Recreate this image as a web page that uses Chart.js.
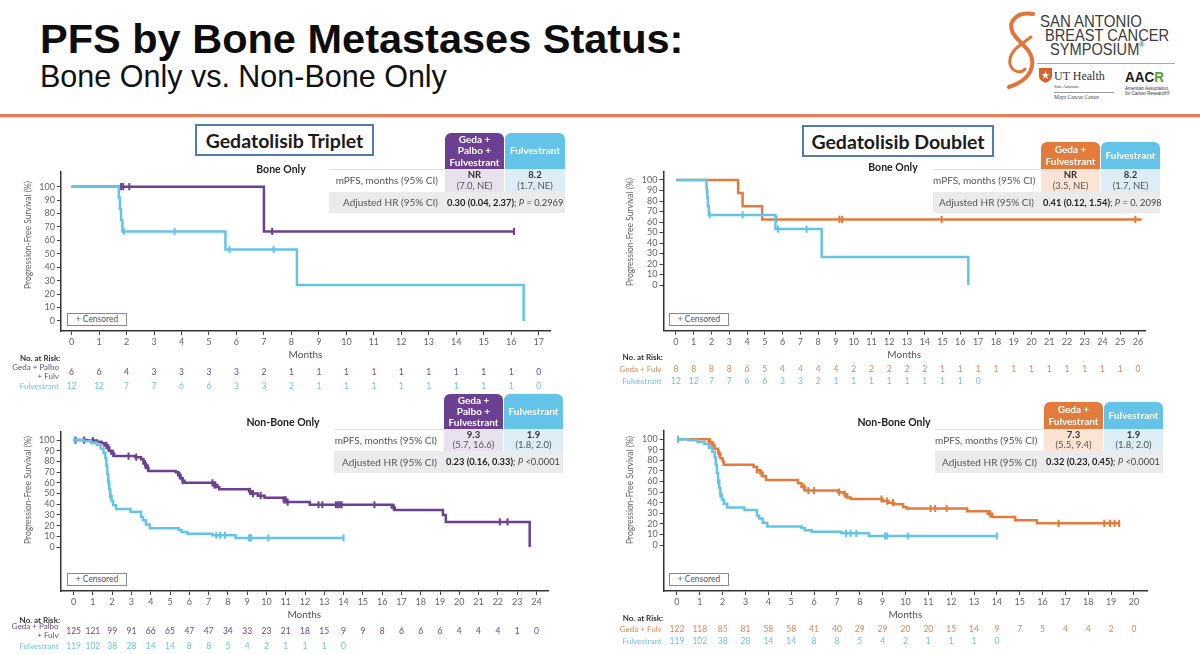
<!DOCTYPE html>
<html>
<head>
<meta charset="utf-8">
<title>PFS by Bone Metastases Status</title>
<script src="https://cdn.jsdelivr.net/npm/chart.js@4.4.1/dist/chart.umd.min.js"></script>
<style>
html,body{margin:0;padding:0;background:#fff;}
body{position:relative;width:1200px;height:654px;overflow:hidden;font-family:Lato,"Open Sans",sans-serif;}
.abs{position:absolute;}
#title{left:40px;top:18px;font:bold 41.5px/41px "Liberation Sans",Arial,sans-serif;color:#0d0d0d;white-space:nowrap;}
#subtitle{left:40px;top:61px;font:30.5px/30px "Liberation Sans",Arial,sans-serif;color:#111;white-space:nowrap;}
#rule{left:0;top:114px;width:1200px;height:3px;background:#e07f5c;box-shadow:0 1px 1px rgba(224,127,92,.35);}
.tbox{position:absolute;box-sizing:border-box;border:2.5px solid #4f7db1;background:#fff;display:flex;align-items:center;justify-content:center;font:bold 19.5px Lato,sans-serif;color:#1b1b1b;z-index:5;}
.sub{position:absolute;width:120px;text-align:center;font:bold 10.5px/14px Lato,sans-serif;color:#222;z-index:5;}
.hdr{position:absolute;box-sizing:border-box;display:flex;align-items:center;justify-content:center;text-align:center;color:#fff;font:bold 10px/11.3px Lato,sans-serif;border-radius:6px 6px 0 0;z-index:5;}
.lab{position:absolute;box-sizing:border-box;text-align:right;padding-right:7px;font:10px Lato,sans-serif;color:#555;white-space:nowrap;z-index:5;}
.val{position:absolute;box-sizing:border-box;display:flex;flex-direction:column;align-items:center;justify-content:center;font:9.5px/10.5px Lato,sans-serif;color:#555;z-index:5;}
.val b{color:#333;}
.r2{position:absolute;background:#ebebeb;z-index:4;}
.r1{position:absolute;background:#fff;border-top:1px solid #e2e2e2;box-sizing:border-box;z-index:4;}
.hr{position:absolute;font:9.3px Lato,sans-serif;color:#444;white-space:nowrap;z-index:5;}
.hr b{color:#222;}
.cens{position:absolute;box-sizing:border-box;border:1px solid #8a8a8a;background:#fff;font:8.5px/11px Lato,sans-serif;color:#555;text-align:center;z-index:5;}
.logo{position:absolute;font-family:"Liberation Sans",Arial,sans-serif;color:#3a3a3a;white-space:nowrap;transform-origin:0 0;}
canvas{position:absolute;}
</style>
</head>
<body>
<div id="title" class="abs">PFS by Bone Metastases Status:</div>
<div id="subtitle" class="abs">Bone Only vs. Non-Bone Only</div>
<div id="rule" class="abs"></div>

<!-- SABCS logo -->
<svg class="abs" style="left:1000px;top:10px" width="42" height="82" viewBox="0 0 42 82">
  <path d="M33,4 C18,1 7,11 13,23 C19,34 35,40 32,56 C30,68 18,74 9,77" fill="none" stroke="#e2733a" stroke-width="4" stroke-linecap="round"/>
  <path d="M31,27 C20,35 8,42 10,54 C12,62 21,64 25,59" fill="none" stroke="#e2733a" stroke-width="3" stroke-linecap="round"/>
</svg>
<div class="logo" style="left:1040px;top:12px;font-size:17px;transform:scaleX(0.88)">SAN ANTONIO</div>
<div class="logo" style="left:1045px;top:26px;font-size:17px;transform:scaleX(0.86)">BREAST CANCER</div>
<div class="logo" style="left:1050px;top:40px;font-size:17px;transform:scaleX(0.86)">SYMPOSIUM<span style="font-size:8px;vertical-align:top">®</span></div>
<div class="abs" style="left:1037px;top:63px;width:138px;height:1px;background:#aaa"></div>
<svg class="abs" style="left:1039px;top:68px" width="13" height="15" viewBox="0 0 13 15">
  <path d="M0,0 H13 V8 C13,12 8,14 6.5,15 C5,14 0,12 0,8 Z" fill="#d4622a"/>
  <path d="M6.5,3 L7.5,6 L10.5,6 L8,7.8 L9,11 L6.5,9 L4,11 L5,7.8 L2.5,6 L5.5,6 Z" fill="#fff"/>
</svg>
<div class="logo" style="left:1054px;top:69px;font:12px 'Liberation Serif',serif;color:#333">UT Health</div>
<div class="logo" style="left:1054px;top:84px;font:5px 'Liberation Serif',serif;color:#444">San Antonio</div>
<div class="abs" style="left:1054px;top:92px;width:60px;height:1px;background:#999"></div>
<div class="logo" style="left:1054px;top:94px;font:5.5px 'Liberation Serif',serif;color:#444">Mays Cancer Center</div>
<div class="logo" style="left:1125px;top:68px;font:bold 15px 'Liberation Sans',sans-serif;color:#1d1d1d;transform:scaleX(0.9)">AAC<span style="color:#55a02f">R</span></div>
<div class="logo" style="left:1125px;top:86px;font:4.5px/5px 'Liberation Sans',sans-serif;color:#333">American Association<br>for Cancer Research®</div>

<!-- panel title boxes -->
<div class="tbox" style="left:195px;top:124px;width:179px;height:32px">Gedatolisib Triplet</div>
<div class="tbox" style="left:802px;top:125px;width:192px;height:32px">Gedatolisib Doublet</div>

<!-- subplot subtitles -->
<div class="sub" style="left:221px;top:162px">Bone Only</div>
<div class="sub" style="left:833px;top:160px">Bone Only</div>
<div class="sub" style="left:223px;top:415px">Non-Bone Only</div>
<div class="sub" style="left:834px;top:415px">Non-Bone Only</div>

<!-- censored legends -->
<div class="cens" style="left:67px;top:313px;width:60px;height:13px">+ Censored</div>
<div class="cens" style="left:669px;top:313px;width:60px;height:13px">+ Censored</div>
<div class="cens" style="left:67px;top:573px;width:60px;height:13px">+ Censored</div>
<div class="cens" style="left:669px;top:573px;width:60px;height:13px">+ Censored</div>

<script>
// ---------------- DATA ----------------
const yTicks = [0, 10, 20, 30, 40, 50, 60, 70, 80, 90, 100];
const monthsTripletBone = [0,1,2,3,4,5,6,7,8,9,10,11,12,13,14,15,16,17];
const monthsDoubletBone = [0,1,2,3,4,5,6,7,8,9,10,11,12,13,14,15,16,17,18,19,20,21,22,23,24,25,26];
const monthsTripletNonBone = [0,1,2,3,4,5,6,7,8,9,10,11,12,13,14,15,16,17,18,19,20,21,22,23,24];
const monthsDoubletNonBone = [0,1,2,3,4,5,6,7,8,9,10,11,12,13,14,15,16,17,18,19,20];

// Kaplan-Meier curves: [month, PFS %] (value after each event)
const fulvBone = [[0,100],[1.72,91.7],[1.76,83.3],[1.8,75],[1.85,66.7],[5.6,53.3],[8.2,26.7],[16.45,26.7],[16.45,0]];
const fulvBoneCens = [1.9, 3.75, 5.75, 7.35];
const tripletBoneGeda = [[0,100],[7.0,66.7],[16.1,66.7]];
const tripletBoneGedaCens = [1.8, 1.88, 2.1, 7.3, 16.1];
const doubletBoneGeda = [[0,100],[3.5,87.5],[3.75,75],[4.85,62.5],[26.2,62.5]];
const doubletBoneGedaCens = [5.65, 9.2, 9.35, 14.95, 25.85];

const fulvNonBone = [[0,100],[0.5,99],[0.9,97.5],[1.2,95.5],[1.4,92],[1.55,88],[1.65,83],[1.7,76],[1.75,68],[1.8,61],[1.85,54],[1.9,48],[1.97,43],[2.05,39],[2.2,35.5],[2.95,33],[3.5,28],[3.6,25],[3.75,21],[3.95,17.5],[5.45,16],[5.6,14],[5.9,12.5],[7.2,11],[8.4,8.5],[14.0,8.5]];
const fulvNonBoneCens = [0.05, 1.8, 1.9, 7.4, 7.6, 7.85, 9.1, 9.2, 10.1, 14.0];
const tripletNonBoneGeda = [[0,100],[0.7,99.5],[1.2,98.5],[1.45,97],[1.6,95],[1.75,93],[1.85,90],[1.95,87.5],[2.1,85],[3.2,84],[3.5,82],[3.62,78],[3.75,74],[3.88,71],[5.3,70],[5.42,67],[5.55,64],[5.65,62],[5.75,60],[7.3,58],[7.45,56],[7.55,54],[9.1,52],[9.25,50],[9.55,48],[9.9,46],[10.9,44],[11.05,42],[12.25,39.5],[16.5,37],[16.65,34.5],[19.15,30],[19.3,23.5],[23.65,23.5],[23.65,0]];
const tripletNonBoneGedaCens = [0.1, 0.55, 1.0, 1.7, 1.8, 2.05, 2.85, 3.25, 3.7, 3.85, 5.5, 5.65, 7.2, 7.3, 7.35, 9.15, 9.3, 9.7, 10.9, 11.0, 11.1, 12.7, 12.9, 13.6, 13.7, 13.8, 13.9, 15.6, 16.6, 22.1, 22.5];
const doubletNonBoneGeda = [[0,100],[1.4,97.5],[1.55,94],[1.65,91],[1.8,86.5],[1.9,82],[2.0,79],[2.05,76],[3.35,74],[3.5,71],[3.62,68],[3.75,65],[3.9,61.5],[5.3,58.5],[5.45,55],[5.6,51.5],[7.05,50],[7.3,48],[7.45,45],[7.6,43.5],[9.0,41.5],[9.25,40],[9.5,38.5],[9.9,36],[10.05,34.5],[12.7,32],[13.6,29.5],[13.8,26.5],[14.8,23.5],[15.75,20.5],[19.4,20.5]];
const doubletNonBoneGedaCens = [0.05, 1.45, 1.6, 1.85, 3.5, 3.7, 5.55, 5.75, 6.0, 7.1, 7.35, 8.95, 9.2, 9.45, 11.1, 11.3, 11.8, 13.7, 16.7, 18.7, 18.95, 19.15, 19.35];

// Numbers at risk
const riskTripletBoneGeda = [6,6,4,3,3,3,3,2,1,1,1,1,1,1,1,1,1,0];
const riskBoneFulv = [12,12,7,7,6,6,3,3,2,1,1,1,1,1,1,1,1,0];
const riskDoubletBoneGeda = [8,8,8,8,6,5,4,4,4,4,2,2,2,2,2,1,1,1,1,1,1,1,1,1,1,1,0];
const riskTripletNonBoneGeda = [125,121,99,91,66,65,47,47,34,33,23,21,18,15,9,9,8,6,6,6,4,4,4,1,0];
const riskNonBoneFulv = [119,102,38,28,14,14,8,8,5,4,2,1,1,1,0];
const riskDoubletNonBoneGeda = [122,118,85,81,58,58,41,40,29,29,20,20,15,14,9,7,5,4,4,2,0];

// Summary tables (text)
const tableTripletBone = {h1:'Geda +<br>Palbo +<br>Fulvestrant', m1:['NR','(7.0, NE)'], m2:['8.2','(1.7, NE)'], hr:'<b>0.30 (0.04, 2.37)</b>; <i>P</i> = 0.2969'};
const tableDoubletBone = {h1:'Geda +<br>Fulvestrant', m1:['NR','(3.5, NE)'], m2:['8.2','(1.7, NE)'], hr:'<b>0.41 (0.12, 1.54)</b>; <i>P</i> = 0. 2098'};
const tableTripletNonBone = {h1:'Geda +<br>Palbo +<br>Fulvestrant', m1:['9.3','(5.7, 16.6)'], m2:['1.9','(1.8, 2.0)'], hr:'<b>0.23 (0.16, 0.33)</b>; <i>P</i> &lt;0.0001'};
const tableDoubletNonBone = {h1:'Geda +<br>Fulvestrant', m1:['7.3','(5.5, 9.4)'], m2:['1.9','(1.8, 2.0)'], hr:'<b>0.32 (0.23, 0.45)</b>; <i>P</i> &lt;0.0001'};

// ---------------- STYLE ----------------
const COL = {purple:'#6b3f91', cyan:'#64c3e8', orange:'#e47b3b',
  purpleLight:'#e8e1ef', cyanLight:'#dcedf5', orangeLight:'#fbe4d5',
  purpleText:'#6a4a86', cyanText:'#6cc4e4', orangeText:'#e0874f'};

Chart.defaults.font.family = 'Lato, "Open Sans", sans-serif';

function survAt(curve, t) {
  let s = curve[0][1];
  for (const [x, y] of curve) { if (x <= t) s = y; else break; }
  return s;
}

function addTable(t, d, headColor, lightColor) {
  const x1 = t.left + t.labW, x2 = x1 + t.c1 + 1;
  const r2top = t.rowTop + t.r1h;
  const h = [];
  h.push(`<div class="hdr" style="left:${x1}px;top:${t.hdrTop}px;width:${t.c1}px;height:${t.rowTop - t.hdrTop}px;background:${headColor}">${d.h1}</div>`);
  h.push(`<div class="hdr" style="left:${x2}px;top:${t.hdrTop}px;width:${t.c2}px;height:${t.rowTop - t.hdrTop}px;background:${COL.cyan}">Fulvestrant</div>`);
  h.push(`<div class="r1" style="left:${t.left}px;top:${t.rowTop}px;width:${t.labW}px;height:${t.r1h}px"></div>`);
  h.push(`<div class="lab" style="left:${t.left}px;top:${t.rowTop}px;width:${t.labW}px;height:${t.r1h}px;line-height:${t.r1h}px">mPFS, months (95% CI)</div>`);
  h.push(`<div class="val" style="left:${x1}px;top:${t.rowTop}px;width:${t.c1}px;height:${t.r1h}px;background:${lightColor}"><b>${d.m1[0]}</b><span>${d.m1[1]}</span></div>`);
  h.push(`<div class="val" style="left:${x2}px;top:${t.rowTop}px;width:${t.c2}px;height:${t.r1h}px;background:${COL.cyanLight}"><b>${d.m2[0]}</b><span>${d.m2[1]}</span></div>`);
  h.push(`<div class="r2" style="left:${t.left}px;top:${r2top}px;width:${x2 + t.c2 - t.left}px;height:${t.r2h}px"></div>`);
  h.push(`<div class="lab" style="left:${t.left}px;top:${r2top}px;width:${t.labW}px;height:${t.r2h}px;line-height:${t.r2h}px">Adjusted HR (95% CI)</div>`);
  h.push(`<div class="hr" style="left:${x1 + 2}px;top:${r2top}px;height:${t.r2h}px;line-height:${t.r2h}px">${d.hr}</div>`);
  document.body.insertAdjacentHTML('beforeend', h.join(''));
}

addTable({left:329, labW:116, c1:59, c2:60, hdrTop:133, rowTop:169, r1h:23, r2h:21}, tableTripletBone, COL.purple, COL.purpleLight);
addTable({left:933, labW:108, c1:59, c2:59, hdrTop:142, rowTop:169, r1h:23, r2h:21}, tableDoubletBone, COL.orange, COL.orangeLight);
addTable({left:334, labW:110, c1:59, c2:59, hdrTop:394, rowTop:429, r1h:22, r2h:22}, tableTripletNonBone, COL.purple, COL.purpleLight);
addTable({left:935, labW:109, c1:59, c2:59, hdrTop:402, rowTop:429, r1h:22, r2h:22}, tableDoubletNonBone, COL.orange, COL.orangeLight);

// ---------------- CHARTS ----------------
const Y_AXIS_W = 28, X_AXIS_H = 30;

function buildPanel(p) {
  const cv = document.createElement('canvas');
  cv.width = p.w; cv.height = p.h;
  cv.style.left = p.left + 'px'; cv.style.top = p.top + 'px';
  cv.style.width = p.w + 'px'; cv.style.height = p.h + 'px';
  document.body.appendChild(cv);

  const datasets = [];
  p.series.forEach(s => {
    datasets.push({
      data: s.curve.map(([x, y]) => ({x, y})),
      borderColor: s.color, borderWidth: 2.5, pointRadius: 0, pointHoverRadius: 0,
      stepped: 'before', fill: false, tension: 0
    });
    datasets.push({
      data: s.cens.map(t => ({x: t, y: survAt(s.curve, t)})),
      showLine: false, pointStyle: 'line', pointRotation: 90, pointRadius: 3.6,
      pointBorderWidth: 2, pointBorderColor: s.color, pointBackgroundColor: s.color,
      borderColor: s.color, pointHoverRadius: 0
    });
  });

  const kmPlugin = {
    id: 'kmExtras',
    afterDraw(chart) {
      const ctx = chart.ctx, xs = chart.scales.x;
      const B = chart.chartArea.bottom, L = chart.chartArea.left;
      ctx.save();
      // y-axis title
      ctx.save();
      ctx.translate(p.yTitleX - p.left, p.yTitleY - p.top);
      ctx.rotate(-Math.PI / 2);
      ctx.font = '8.5px Lato, sans-serif';
      ctx.fillStyle = '#666'; ctx.textAlign = 'center'; ctx.textBaseline = 'middle';
      ctx.fillText('Progression-Free Survival (%)', 0, 0);
      ctx.restore();
      // numbers at risk
      ctx.textBaseline = 'middle';
      ctx.font = 'bold 8px Lato, sans-serif'; ctx.fillStyle = '#333'; ctx.textAlign = 'left';
      ctx.fillText('No. at Risk:', L - 41, B + p.noY);
      p.rows.forEach(r => {
        ctx.fillStyle = r.color;
        ctx.textAlign = 'right'; ctx.font = '8px Lato, sans-serif';
        r.label.forEach((ln, i) => ctx.fillText(ln, L - 2, B + r.dy + (i - (r.label.length - 1) / 2) * 8.5));
        ctx.textAlign = 'center'; ctx.font = '8.5px Lato, sans-serif';
        r.values.forEach((v, i) => ctx.fillText(String(v), xs.getPixelForValue(p.xTicks[i]), B + r.dy));
      });
      ctx.restore();
    }
  };

  new Chart(cv, {
    type: 'line',
    data: {datasets},
    options: {
      responsive: false, animation: false, events: [],
      layout: {padding: {left: p.L - p.left - Y_AXIS_W, right: p.left + p.w - p.R, top: p.T - p.top, bottom: p.top + p.h - p.B - X_AXIS_H}},
      plugins: {legend: {display: false}, tooltip: {enabled: false}, title: {display: false}},
      scales: {
        x: {
          type: 'linear', min: p.xMin, max: p.xMax, bounds: 'data',
          afterBuildTicks: s => { s.ticks = p.xTicks.map(v => ({value: v})); },
          afterFit: s => { s.height = X_AXIS_H; },
          ticks: {autoSkip: false, maxRotation: 0, font: {size: 9}, color: '#666', padding: 2},
          grid: {drawOnChartArea: false, drawTicks: true, tickLength: 4, color: '#444', lineWidth: 1},
          border: {color: '#333', width: 1.5},
          title: {display: true, text: 'Months', font: {size: 10}, color: '#555', padding: 0}
        },
        y: {
          type: 'linear', min: p.yMin, max: p.yMax, bounds: 'data',
          afterBuildTicks: s => { s.ticks = yTicks.map(v => ({value: v})); },
          afterFit: s => { s.width = Y_AXIS_W; },
          ticks: {font: {size: 9}, color: '#666', padding: 2},
          grid: {drawOnChartArea: false, drawTicks: true, tickLength: 4, color: '#444', lineWidth: 1},
          border: {color: '#333', width: 1.5}
        }
      }
    },
    plugins: [kmPlugin]
  });
}

// Gedatolisib triplet, bone only
buildPanel({
  left: 0, top: 160, w: 590, h: 240, L: 61, R: 550, T: 172, B: 331,
  xMin: -0.385, xMax: 17.41, yMin: -7.45, yMax: 110.9, xTicks: monthsTripletBone,
  yTitleX: 28, yTitleY: 235, noY: 27,
  series: [
    {curve: fulvBone, cens: fulvBoneCens, color: COL.cyan},
    {curve: tripletBoneGeda, cens: tripletBoneGedaCens, color: COL.purple}
  ],
  rows: [
    {label: ['Geda + Palbo', '+ Fulv'], values: riskTripletBoneGeda, color: COL.purpleText, dy: 41},
    {label: ['Fulvestrant'], values: riskBoneFulv, color: COL.cyanText, dy: 55}
  ]
});

// Gedatolisib doublet, bone only
buildPanel({
  left: 600, top: 160, w: 590, h: 240, L: 663.5, R: 1145, T: 171.7, B: 330.7,
  xMin: -0.70, xMax: 26.39, yMin: -43.5, yMax: 107.9, xTicks: monthsDoubletBone,
  yTitleX: 630, yTitleY: 232, noY: 27,
  series: [
    {curve: fulvBone, cens: fulvBoneCens, color: COL.cyan},
    {curve: doubletBoneGeda, cens: doubletBoneGedaCens, color: COL.orange}
  ],
  rows: [
    {label: ['Geda + Fulv'], values: riskDoubletBoneGeda, color: COL.orangeText, dy: 39},
    {label: ['Fulvestrant'], values: riskBoneFulv, color: COL.cyanText, dy: 51}
  ]
});

// Gedatolisib triplet, non-bone only
buildPanel({
  left: 0, top: 420, w: 590, h: 234, L: 60.6, R: 548, T: 431.7, B: 591,
  xMin: -0.674, xMax: 24.6, yMin: -41.1, yMax: 107.8, xTicks: monthsTripletNonBone,
  yTitleX: 28, yTitleY: 490, noY: 29,
  series: [
    {curve: fulvNonBone, cens: fulvNonBoneCens, color: COL.cyan},
    {curve: tripletNonBoneGeda, cens: tripletNonBoneGedaCens, color: COL.purple}
  ],
  rows: [
    {label: ['Geda + Palbo', '+ Fulv'], values: riskTripletNonBoneGeda, color: COL.purpleText, dy: 40},
    {label: ['Fulvestrant'], values: riskNonBoneFulv, color: COL.cyanText, dy: 55}
  ]
});

// Gedatolisib doublet, non-bone only
buildPanel({
  left: 600, top: 420, w: 590, h: 234, L: 663.7, R: 1147, T: 430.7, B: 591,
  xMin: -0.58, xMax: 20.57, yMin: -43.5, yMax: 108.1, xTicks: monthsDoubletNonBone,
  yTitleX: 630, yTitleY: 490, noY: 27,
  series: [
    {curve: fulvNonBone, cens: fulvNonBoneCens, color: COL.cyan},
    {curve: doubletNonBoneGeda, cens: doubletNonBoneGedaCens, color: COL.orange}
  ],
  rows: [
    {label: ['Geda + Fulv'], values: riskDoubletNonBoneGeda, color: COL.orangeText, dy: 38},
    {label: ['Fulvestrant'], values: riskNonBoneFulv, color: COL.cyanText, dy: 50}
  ]
});
</script>
</body>
</html>
